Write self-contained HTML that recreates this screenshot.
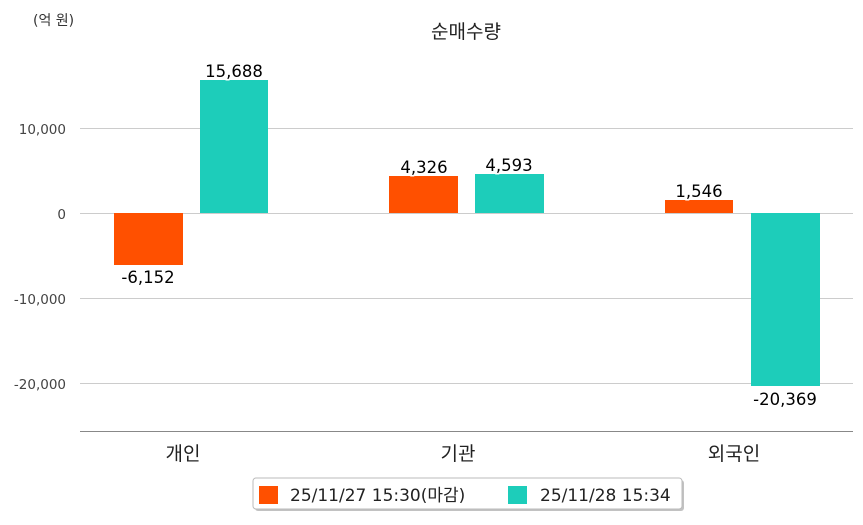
<!DOCTYPE html>
<html><head><meta charset="utf-8"><style>
body{margin:0;background:#fff;}
svg text{font-family:"DejaVu Sans","Noto Sans CJK KR",sans-serif;}
</style></head><body>
<svg width="863" height="520" xmlns="http://www.w3.org/2000/svg">
<text x="33" y="25" font-size="14" fill="#333">(억 원)</text>
<text x="466" y="38" font-size="19" fill="#222" text-anchor="middle">순매수량</text>
<g stroke="#ccc" stroke-width="1">
<line x1="80" y1="128.5" x2="853" y2="128.5"/>
<line x1="80" y1="213.5" x2="853" y2="213.5"/>
<line x1="80" y1="298.5" x2="853" y2="298.5"/>
<line x1="80" y1="383.5" x2="853" y2="383.5"/>
</g>
<line x1="80" y1="431.5" x2="853" y2="431.5" stroke="#888"/>
<g font-size="13.5" fill="#444" text-anchor="end">
<text x="66" y="134">10,000</text>
<text x="66" y="219">0</text>
<text x="66" y="304">-10,000</text>
<text x="66" y="389">-20,000</text>
</g>
<g fill="#FF5000">
<rect x="114" y="213" width="69" height="52"/>
<rect x="389" y="176" width="69" height="37"/>
<rect x="665" y="200" width="68" height="13"/>
</g>
<g fill="#1DCDBA">
<rect x="200" y="80" width="68" height="133"/>
<rect x="475" y="174" width="69" height="39"/>
<rect x="751" y="213" width="69" height="173"/>
</g>
<g font-size="16.5" fill="#000" text-anchor="middle" stroke="#fff" stroke-width="3" paint-order="stroke">
<text x="148" y="283">-6,152</text>
<text x="234" y="77">15,688</text>
<text x="424" y="173">4,326</text>
<text x="509" y="171">4,593</text>
<text x="699" y="197">1,546</text>
<text x="785" y="405">-20,369</text>
</g>
<g font-size="19" fill="#222" text-anchor="middle">
<text x="183" y="460">개인</text>
<text x="458" y="460">기관</text>
<text x="734" y="460">외국인</text>
</g>
<rect x="255" y="480" width="429" height="31" rx="3" fill="#999" opacity="0.6"/>
<rect x="253" y="478" width="429" height="31" rx="3" fill="#fff" stroke="#bbb"/>
<rect x="259" y="486" width="19" height="18" fill="#FF5000"/>
<text x="290" y="501" font-size="17" fill="#222">25/11/27 15:30(마감)</text>
<rect x="508" y="486" width="19" height="18" fill="#1DCDBA"/>
<text x="540" y="501" font-size="17" fill="#222">25/11/28 15:34</text>
</svg>
</body></html>
